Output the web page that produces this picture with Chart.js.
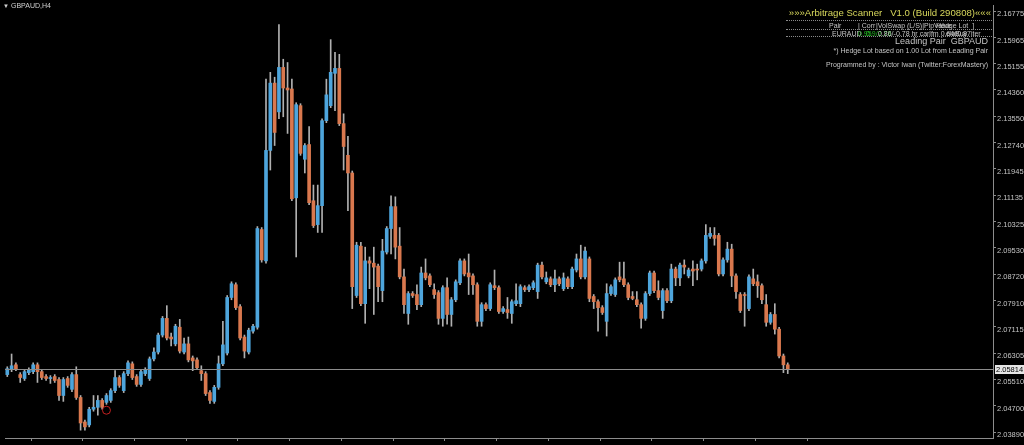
<!DOCTYPE html>
<html><head><meta charset="utf-8">
<script src="https://cdn.jsdelivr.net/npm/chart.js@4"></script>
<style>
html,body{margin:0;padding:0;background:#000;overflow:hidden}
#wrap{position:relative;width:1024px;height:445px;background:#000}
canvas{display:block}
.t{position:absolute;font-family:'Liberation Sans',Arial,sans-serif;white-space:pre;color:#c4c4c4;line-height:1}
.hl{position:absolute;left:786px;width:206px;height:0;border-top:1px dotted #8a8a8a}
</style></head><body>
<div id="wrap"><canvas id="c" width="1024" height="445"></canvas>
<div class="t" style="left:3px;top:3px;font-size:6px;color:#d0d0d0">▼</div>
<div class="t" style="left:11px;top:2px;font-size:7px;color:#d0d0d0">GBPAUD,H4</div>
<div class="t" style="right:33px;top:8px;font-size:9.6px;color:#d8d85c">»»»Arbitrage Scanner&nbsp;&nbsp; V1.0 (Build 290808)«««</div>
<div class="hl" style="top:20px"></div>
<div class="t" style="left:829px;top:22px;font-size:7px">Pair</div>
<div class="t" style="left:858px;top:22px;font-size:7px">| Corr</div>
<div class="t" style="left:876px;top:22px;font-size:7px">|VolSwap (L/S)|PipValue</div>
<div class="t" style="left:936px;top:22px;font-size:7px">Hedge Lot&nbsp; ]</div>
<div class="hl" style="top:29px"></div>
<div class="t" style="left:832px;top:30px;font-size:7px">EURAUD</div>
<div class="t" style="left:858px;top:30px;font-size:7px;color:#22b422">0.95</div>
<div class="t" style="left:866px;top:30px;font-size:7px;color:#22b422">0.9/2.78</div>
<div class="t" style="left:878px;top:30px;font-size:7px">0.86/-0.78 hr carlfm 0.64</div>
<div class="t" style="left:946px;top:30px;font-size:7px">elat0.87iter</div>
<div class="t" style="left:955px;top:30px;font-size:7px">Buy</div>
<div class="hl" style="top:36px"></div>
<div class="t" style="right:36px;top:37px;font-size:9px">Leading Pair&nbsp; GBPAUD</div>
<div class="t" style="right:36px;top:47px;font-size:7px">*) Hedge Lot based on 1.00 Lot from Leading Pair</div>
<div class="t" style="right:36px;top:61px;font-size:7px">Programmed by : Victor Iwan (Twitter:ForexMastery)</div>
</div>
<script>
// GBPAUD H4 candles (oldest -> newest)
const open = [
2.0565,2.0580,2.0595,2.0565,2.0553,2.0571,2.0574,2.0595,2.0574,2.0559,
2.0553,2.0559,2.0550,2.0501,2.0553,2.0520,2.0565,2.0495,2.0420,2.0411,
2.0459,2.0465,2.0486,2.0480,2.0486,2.0516,2.0556,2.0516,2.0568,2.0598,
2.0559,2.0535,2.0568,2.0553,2.0613,2.0634,2.0686,2.0737,2.0680,2.0659,
2.0710,2.0634,2.0659,2.0616,2.0610,2.0577,2.0568,2.0510,2.0483,2.0526,
2.0598,2.0631,2.0801,2.0840,2.0773,2.0680,2.0634,2.0698,2.0710,2.1009,
2.0913,2.1251,2.1457,2.1369,2.1505,2.1442,2.1439,2.1106,2.1388,2.1224,
2.1269,2.1097,2.1024,2.1082,2.1342,2.1388,2.1487,2.1502,2.1333,2.1236,
2.1182,2.0807,2.0958,2.0782,2.0913,2.0906,2.0897,2.0822,2.0940,2.1012,
2.1079,2.0958,2.0864,2.0752,2.0813,2.0810,2.0779,2.0876,2.0867,2.0825,
2.0816,2.0737,2.0831,2.0749,2.0794,2.0846,2.0913,2.0876,2.0867,2.0840,
2.0728,2.0779,2.0767,2.0837,2.0831,2.0758,2.0764,2.0752,2.0782,2.0782,
2.0831,2.0825,2.0831,2.0819,2.0900,2.0849,2.0858,2.0840,2.0858,2.0828,
2.0858,2.0834,2.0885,2.0919,2.0864,2.0919,2.0804,2.0788,2.0770,2.0728,
2.0813,2.0810,2.0864,2.0858,2.0840,2.0804,2.0794,2.0779,2.0737,2.0813,
2.0876,2.0822,2.0761,2.0822,2.0791,2.0888,2.0861,2.0900,2.0867,2.0888,
2.0888,2.0888,2.0913,2.0988,2.0991,2.0991,2.0873,2.0916,2.0949,2.0867,
2.0810,2.0810,2.0767,2.0858,2.0849,2.0837,2.0779,2.0725,2.0749,2.0704,
2.0622,2.0595
];
const high = [
2.0589,2.0628,2.0601,2.0571,2.0580,2.0586,2.0601,2.0601,2.0580,2.0565,
2.0562,2.0565,2.0556,2.0556,2.0559,2.0571,2.0589,2.0501,2.0426,2.0465,
2.0501,2.0501,2.0492,2.0507,2.0522,2.0577,2.0562,2.0574,2.0607,2.0604,
2.0565,2.0580,2.0586,2.0619,2.0647,2.0692,2.0743,2.0776,2.0692,2.0719,
2.0734,2.0677,2.0680,2.0622,2.0616,2.0592,2.0574,2.0516,2.0532,2.0622,
2.0728,2.0807,2.0849,2.0846,2.0779,2.0686,2.0707,2.0719,2.1018,2.1015,
2.1469,2.1490,2.1475,2.1636,2.1530,2.1520,2.1469,2.1397,2.1394,2.1272,
2.1324,2.1145,2.1145,2.1348,2.1469,2.1590,2.1551,2.1545,2.1363,2.1294,
2.1188,2.0970,2.0970,2.0955,2.0925,2.0955,2.0903,2.0979,2.1018,2.1112,
2.1109,2.1015,2.0888,2.0819,2.0819,2.0840,2.0894,2.0919,2.0873,2.0843,
2.0822,2.0837,2.0861,2.0801,2.0855,2.0919,2.0919,2.0934,2.0873,2.0846,
2.0785,2.0785,2.0846,2.0885,2.0837,2.0773,2.0801,2.0794,2.0843,2.0840,
2.0837,2.0840,2.0852,2.0906,2.0909,2.0879,2.0864,2.0885,2.0864,2.0876,
2.0864,2.0894,2.0934,2.0961,2.0955,2.0925,2.0810,2.0794,2.0776,2.0843,
2.0840,2.0861,2.0909,2.0909,2.0846,2.0819,2.0819,2.0785,2.0819,2.0882,
2.0882,2.0852,2.0828,2.0828,2.0903,2.0894,2.0906,2.0916,2.0891,2.0913,
2.0903,2.0919,2.1024,2.1015,2.1015,2.0997,2.0922,2.0970,2.0964,2.0873,
2.0816,2.0816,2.0870,2.0888,2.0870,2.0843,2.0810,2.0755,2.0782,2.0710,
2.0628,2.0601
];
const low = [
2.0559,2.0574,2.0577,2.0541,2.0547,2.0565,2.0568,2.0541,2.0550,2.0547,
2.0538,2.0541,2.0486,2.0483,2.0526,2.0513,2.0489,2.0395,2.0395,2.0405,
2.0453,2.0441,2.0459,2.0474,2.0480,2.0510,2.0526,2.0510,2.0562,2.0550,
2.0529,2.0529,2.0562,2.0547,2.0607,2.0628,2.0680,2.0671,2.0653,2.0653,
2.0631,2.0628,2.0604,2.0577,2.0580,2.0547,2.0501,2.0477,2.0477,2.0520,
2.0592,2.0625,2.0794,2.0764,2.0671,2.0616,2.0628,2.0692,2.0704,2.0909,
2.0906,2.1191,2.1266,2.1348,2.1354,2.1303,2.1097,2.0925,2.1236,2.1182,
2.1085,2.1015,2.1000,2.1000,2.1336,2.1382,2.1373,2.1327,2.1191,2.1067,
2.0767,2.0801,2.0776,2.0722,2.0828,2.0749,2.0788,2.0788,2.0934,2.0934,
2.0919,2.0858,2.0752,2.0719,2.0801,2.0764,2.0773,2.0855,2.0834,2.0798,
2.0719,2.0713,2.0719,2.0713,2.0788,2.0840,2.0867,2.0810,2.0810,2.0713,
2.0713,2.0761,2.0761,2.0825,2.0752,2.0752,2.0737,2.0722,2.0776,2.0773,
2.0819,2.0819,2.0825,2.0798,2.0858,2.0843,2.0834,2.0819,2.0837,2.0822,
2.0828,2.0828,2.0879,2.0858,2.0858,2.0788,2.0767,2.0698,2.0749,2.0683,
2.0807,2.0804,2.0849,2.0834,2.0794,2.0794,2.0773,2.0707,2.0731,2.0807,
2.0816,2.0794,2.0737,2.0785,2.0785,2.0837,2.0837,2.0873,2.0861,2.0837,
2.0855,2.0882,2.0906,2.0982,2.0961,2.0867,2.0867,2.0909,2.0834,2.0798,
2.0755,2.0713,2.0761,2.0837,2.0801,2.0782,2.0713,2.0719,2.0689,2.0616,
2.0571,2.0568
];
const close = [
2.0583,2.0592,2.0583,2.0556,2.0574,2.0580,2.0595,2.0574,2.0556,2.0553,
2.0556,2.0547,2.0501,2.0550,2.0532,2.0565,2.0495,2.0417,2.0405,2.0459,
2.0465,2.0486,2.0465,2.0501,2.0516,2.0556,2.0532,2.0568,2.0601,2.0556,
2.0535,2.0574,2.0580,2.0613,2.0634,2.0686,2.0737,2.0677,2.0674,2.0713,
2.0637,2.0659,2.0610,2.0607,2.0586,2.0568,2.0507,2.0486,2.0526,2.0598,
2.0656,2.0801,2.0843,2.0770,2.0677,2.0637,2.0701,2.0713,2.1012,2.0916,
2.1251,2.1457,2.1306,2.1505,2.1442,2.1436,2.1103,2.1391,2.1242,2.1266,
2.1091,2.1021,2.1082,2.1342,2.1421,2.1490,2.1502,2.1333,2.1263,2.1182,
2.0834,2.0961,2.0782,2.0913,2.0906,2.0894,2.0834,2.0943,2.1012,2.1079,
2.0955,2.0864,2.0779,2.0813,2.0807,2.0779,2.0876,2.0861,2.0840,2.0810,
2.0737,2.0831,2.0749,2.0794,2.0849,2.0913,2.0873,2.0864,2.0840,2.0728,
2.0779,2.0767,2.0840,2.0831,2.0758,2.0767,2.0755,2.0788,2.0791,2.0834,
2.0825,2.0834,2.0846,2.0900,2.0864,2.0861,2.0840,2.0858,2.0843,2.0861,
2.0834,2.0888,2.0919,2.0864,2.0943,2.0798,2.0788,2.0770,2.0755,2.0813,
2.0834,2.0855,2.0855,2.0840,2.0801,2.0798,2.0779,2.0737,2.0813,2.0876,
2.0822,2.0801,2.0822,2.0791,2.0888,2.0861,2.0900,2.0894,2.0885,2.0882,
2.0885,2.0913,2.0991,2.0997,2.0982,2.0873,2.0916,2.0949,2.0867,2.0819,
2.0761,2.0807,2.0864,2.0843,2.0837,2.0794,2.0725,2.0749,2.0704,2.0622,
2.0595,2.05814
];
// price-scale labels shown on the right axis
const priceTicks = [2.16775,2.15965,2.15155,2.14360,2.13550,2.12740,2.11945,2.11135,2.10325,2.09530,2.08720,2.07910,2.07115,2.06305,2.05510,2.04700,2.03890];
// time grid marks: one every 12 bars (2 days of H4)
const timeTicks = [11.5,23.5,35.5,47.5,59.5,71.5,83.5,95.5,107.5,119.5,131.5,143.5,155.5,167.5,179.5];
// signal arrow (bar index, price)
const signalBar = [23];
const signalPrice = [2.0456];

const upCol = '#4ea5dc', dnCol = '#d9784e', wickCol = '#b0b0b0', axisCol = '#8c8c8c';
const bodies = [], wicks = [], colors = [];
for (let i = 0; i < close.length; i++) {
  const o = open[i], c = close[i];
  bodies.push({x: i, y: [Math.min(o, c), Math.max(o, c)]});
  wicks.push({x: i, y: [low[i], high[i]]});
  colors.push(c >= o ? upCol : dnCol);
}
const lastPricePlugin = {
  id: 'lastPrice',
  afterDatasetsDraw(chart) {
    const {ctx, chartArea: a, scales: {y}} = chart;
    const last = close[close.length - 1];
    const py = Math.round(y.getPixelForValue(last)) + 0.5;
    ctx.save();
    ctx.strokeStyle = axisCol; ctx.lineWidth = 1;
    ctx.beginPath(); ctx.moveTo(a.left, py); ctx.lineTo(a.right, py); ctx.stroke();
    ctx.fillStyle = '#e6e6e6';
    ctx.fillRect(a.right + 2, py - 4.5, 29, 9);
    ctx.fillStyle = '#000';
    ctx.font = '7.5px "Liberation Sans"';
    ctx.textBaseline = 'middle';
    ctx.fillText(last.toFixed(5), a.right + 3, py + 0.5);
    ctx.restore();
  }
};
new Chart(document.getElementById('c'), {
  type: 'bar',
  data: {datasets: [
    {type: 'scatter', data: signalBar.map((b, k) => ({x: b, y: signalPrice[k]})), pointRadius: 4, pointBorderColor: '#c42020', pointBackgroundColor: 'rgba(0,0,0,0)', pointBorderWidth: 1, order: -1},
    {data: bodies, backgroundColor: colors, barThickness: 3, grouped: false, minBarLength: 1, borderWidth: 0, order: 0},
    {data: wicks, backgroundColor: wickCol, barThickness: 1, grouped: false, borderWidth: 0, order: 1}
  ]},
  options: {
    responsive: false, animation: false, devicePixelRatio: 1,
    layout: {padding: 0},
    plugins: {legend: {display: false}, tooltip: {enabled: false}},
    scales: {
      x: {type: 'linear', min: -0.53, max: 228.6, offset: false,
        grid: {display: true, drawOnChartArea: false, drawTicks: true, tickLength: 3, color: axisCol},
        border: {display: true, color: axisCol},
        ticks: {display: false},
        afterBuildTicks: s => { s.ticks = timeTicks.map(v => ({value: v})); },
        afterFit: s => { s.height = 7; s.paddingLeft = 0; s.paddingRight = 0; }
      },
      y: {position: 'right', min: 2.0371, max: 2.1696,
        grid: {drawOnChartArea: false, drawTicks: true, tickLength: 3, color: axisCol},
        border: {display: true, color: axisCol},
        ticks: {color: '#c4c4c4', autoSkip: false, font: {family: 'Liberation Sans', size: 7.5}, padding: 1, labelOffset: 3,
          callback: v => Number(v).toFixed(5)},
        afterBuildTicks: s => { s.ticks = priceTicks.map(v => ({value: v})); },
        afterFit: s => { s.width = 31; s.paddingTop = 0; s.paddingBottom = 0; }
      }
    }
  },
  plugins: [lastPricePlugin]
});
</script>
</body></html>
